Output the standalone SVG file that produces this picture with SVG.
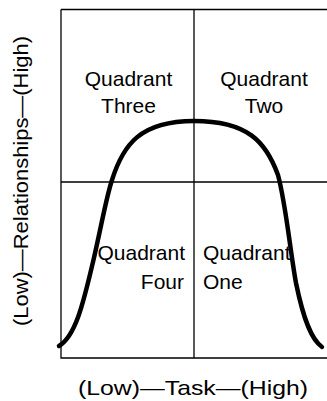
<svg xmlns="http://www.w3.org/2000/svg" width="327" height="401" viewBox="0 0 327 401">
<style>
.ln{stroke:#000;stroke-width:1.3;fill:none}
.cv{stroke:#000;stroke-width:4.5;fill:none;stroke-linecap:round}
text{font-family:"Liberation Sans",Arial,sans-serif;font-size:21px;fill:#000}
</style>
<rect width="327" height="401" fill="#fff"/>
<g id="grid">
<path class="ln" d="M61,9.5 H327 M61,9.5 V358 H327 M194,9.5 V358 M61,182 H327"/>
</g>
<g id="curve">
<path class="cv" d="M59,346 C76,336 84,300 93,262 C101,228 106,198 112,180 C123,145 140,121 194,121 C248,121 266,142 278,175 C286,205 290,250 296,283 C304,322 312,340 322,347"/>
</g>
<g id="q3"><text x="128.5" y="86" text-anchor="middle">Quadrant</text><text x="128.5" y="113" text-anchor="middle">Three</text></g>
<g id="q2"><text x="264" y="86" text-anchor="middle">Quadrant</text><text x="264" y="113" text-anchor="middle">Two</text></g>
<g id="q4"><text x="185" y="260" text-anchor="end">Quadrant</text><text x="184" y="289" text-anchor="end">Four</text></g>
<g id="q1"><text x="203" y="260">Quadrant</text><text x="203" y="289">One</text></g>
<g id="xlabel"><text x="193" y="395" text-anchor="middle" textLength="230" lengthAdjust="spacingAndGlyphs">(Low)—Task—(High)</text></g>
<g id="ylabel"><text transform="translate(28,181) rotate(-90)" x="0" y="0" text-anchor="middle" textLength="290" lengthAdjust="spacingAndGlyphs">(Low)—Relationships—(High)</text></g>
</svg>
